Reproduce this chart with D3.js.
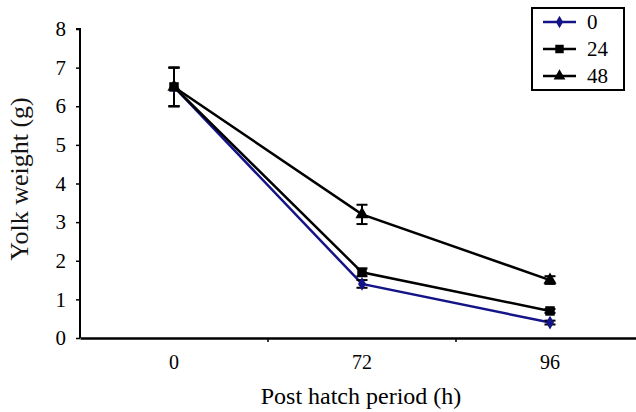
<!DOCTYPE html>
<html>
<head>
<meta charset="utf-8">
<script src="https://cdn.jsdelivr.net/npm/d3@7"></script>
<style>
  body { margin: 0; background: #fff; }
</style>
</head>
<body>
<svg class="canvas" width="636" height="412"></svg>
<script>
'use strict';

// Data.
const periods = ['0', '72', '96'];
const seriesNames = ['0', '24', '48'];
const yolk0 = [6.5, 1.4, 0.4];
const yolk24 = [6.5, 1.7, 0.7];
const yolk48 = [6.5, 3.2, 1.5];
const err0 = [0.5, 0.1, 0.05];
const err24 = [0.5, 0.1, 0.05];
const err48 = [0.5, 0.25, 0.1];
const yTicks = [0, 1, 2, 3, 4, 5, 6, 7, 8];

const series = [
  { name: seriesNames[0], values: yolk0, errs: err0, color: '#141488', shape: d3.symbolDiamond, size: 55 },
  { name: seriesNames[1], values: yolk24, errs: err24, color: '#000', shape: d3.symbolSquare, size: 90 },
  { name: seriesNames[2], values: yolk48, errs: err48, color: '#000', shape: d3.symbolTriangle, size: 75 },
];

const serif = "'Liberation Serif', 'Times New Roman', Times, serif";

const svg = d3.select('.canvas');
const padding = { top: 29, left: 80 };
const plotBottom = 338;

// categories are laid out like a band axis, 188px each
const xScale = d3.scaleBand().domain(periods).range([padding.left, padding.left + 188 * 3]);
const yScale = d3.scaleLinear().domain([0, 8]).range([plotBottom, padding.top]);
const xc = p => xScale(p) + xScale.bandwidth() / 2;

// Axes.
const yAxis = d3.axisLeft(yScale).tickValues(yTicks).tickSize(4).tickPadding(10);
const gy = svg.append('g').attr('transform', `translate(${padding.left},0)`).call(yAxis);
gy.attr('font-family', null).attr('font-size', null);
gy.select('.domain').attr('stroke-width', 2).attr('d', `M-4,${padding.top}H0V${plotBottom}`);
gy.selectAll('.tick line').attr('stroke-width', 1.5);
gy.selectAll('.tick text').style('font-family', serif).style('font-size', '21px').attr('fill', '#000');

const xAxis = d3.axisBottom(xScale).tickSize(0).tickPadding(17);
const gx = svg.append('g').attr('transform', `translate(0,${plotBottom})`).call(xAxis);
gx.attr('font-family', null).attr('font-size', null);
gx.select('.domain').attr('stroke-width', 2.5);
gx.selectAll('.tick text').style('font-family', serif).style('font-size', '20px').attr('fill', '#000');
// little tick marks between categories
gx.selectAll('.sep')
  .data(periods.slice(1))
  .enter()
  .append('line')
  .attr('x1', d => xScale(d))
  .attr('x2', d => xScale(d))
  .attr('y1', 0)
  .attr('y2', 4)
  .attr('stroke', '#000')
  .attr('stroke-width', 1.5);

// Axis titles.
svg.append('text')
  .attr('x', 361)
  .attr('y', 404)
  .attr('text-anchor', 'middle')
  .style('font-family', serif)
  .style('font-size', '24px')
  .text('Post hatch period (h)');
svg.append('text')
  .attr('transform', `translate(28,179) rotate(-90)`)
  .attr('text-anchor', 'middle')
  .style('font-family', serif)
  .style('font-size', '26px')
  .attr('fill', '#151515')
  .text('Yolk weight (g)');

// Lines.
const line = d3.line().x((d, i) => xc(periods[i])).y(d => yScale(d));
series.forEach(s => {
  svg.append('path')
    .datum(s.values)
    .attr('fill', 'none')
    .attr('stroke', s.color)
    .attr('stroke-width', 2.5)
    .attr('d', line);
});

// Error bars.
series.forEach(s => {
  const g = svg.append('g').attr('stroke', '#000').attr('stroke-width', 2);
  s.values.forEach((v, i) => {
    const x = xc(periods[i]);
    const y1 = yScale(v + s.errs[i]), y2 = yScale(v - s.errs[i]);
    g.append('line').attr('x1', x).attr('x2', x).attr('y1', y1).attr('y2', y2);
    g.append('line').attr('x1', x - 5.5).attr('x2', x + 5.5).attr('y1', y1).attr('y2', y1);
    g.append('line').attr('x1', x - 5.5).attr('x2', x + 5.5).attr('y1', y2).attr('y2', y2);
  });
});

// Markers.
series.forEach(s => {
  svg.append('g')
    .selectAll('path')
    .data(s.values)
    .enter()
    .append('path')
    .attr('transform', (d, i) => `translate(${xc(periods[i])},${yScale(d)})`)
    .attr('d', d3.symbol().type(s.shape).size(s.size))
    .attr('fill', s.color);
});

// Legend.
const legend = svg.append('g').attr('transform', 'translate(532,8)');
legend.append('rect')
  .attr('width', 92)
  .attr('height', 82)
  .attr('fill', '#fff')
  .attr('stroke', '#000')
  .attr('stroke-width', 2);
series.forEach((s, i) => {
  const y = 14 + i * 27;
  legend.append('line')
    .attr('x1', 11).attr('x2', 44)
    .attr('y1', y).attr('y2', y)
    .attr('stroke', s.color).attr('stroke-width', 2.5);
  legend.append('path')
    .attr('transform', `translate(27.5,${y})`)
    .attr('d', d3.symbol().type(s.shape).size(s.size * 0.8))
    .attr('fill', s.color);
  legend.append('text')
    .attr('x', 55)
    .attr('y', y + 7)
    .style('font-family', serif)
    .style('font-size', '21px')
    .text(s.name);
});
</script>
</body>
</html>
